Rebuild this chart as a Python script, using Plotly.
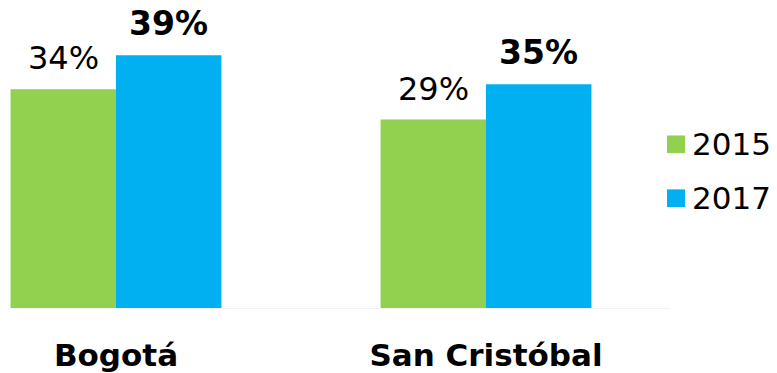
import plotly.graph_objects as go

# data (bar heights; labels show them rounded)
categories = ["Bogotá", "San Cristóbal"]
years = ["2015", "2017"]
values_2015 = [34.0, 29.3]
values_2017 = [39.3, 34.8]
colors = ["#92D050", "#00B0F0"]
label_weights = ["normal", "bold"]
label_sizes = [32, 33]

series = [values_2015, values_2017]

# layout constants (pixels); the page body adds an 8px margin
OFF = 8
W, H = 777 - OFF, 373 - OFF
plot_w, plot_h = 670 - OFF, 314 - OFF
px_per_cat = 370
bargap = 0.43
x_lo = -(116 - OFF) / px_per_cat
x_hi = x_lo + plot_w / px_per_cat
y_hi = plot_h / 6.56
bar_w = px_per_cat * (1 - bargap) / 2

fig = go.Figure()
for i, (year, vals) in enumerate(zip(years, series)):
    fig.add_trace(go.Bar(
        x=categories, y=vals, name=year,
        marker=dict(color=colors[i], line=dict(width=0)),
        showlegend=False,
    ))

# value labels above each bar
annotations = []
for i, vals in enumerate(series):
    shift = (i - 0.5) * bar_w
    for cat, v in zip(categories, vals):
        annotations.append(dict(
            x=cat, y=v, xref="x", yref="y", text=f"{v:.0f}%",
            showarrow=False, yanchor="bottom", xanchor="center",
            xshift=shift, yshift=10,
            font=dict(family="DejaVu Sans", size=label_sizes[i], color="#000000",
                      weight=label_weights[i]),
        ))

# legend drawn at the right side
shapes = []
leg_x0, leg_sq = 667 - OFF, 18
leg_centers = [147 - OFF, 202 - OFF]
for i, year in enumerate(years):
    cy = leg_centers[i]
    shapes.append(dict(
        type="rect", xref="paper", yref="paper",
        x0=leg_x0 / plot_w, x1=(leg_x0 + leg_sq) / plot_w,
        y0=(plot_h - cy - leg_sq / 2) / plot_h, y1=(plot_h - cy + leg_sq / 2) / plot_h,
        fillcolor=colors[i], line=dict(width=0),
    ))
    annotations.append(dict(
        x=(leg_x0 + leg_sq + 5) / plot_w, y=(plot_h - cy) / plot_h,
        xref="paper", yref="paper", text=year, showarrow=False,
        xanchor="left", yanchor="middle",
        font=dict(family="DejaVu Sans", size=31, color="#000000"),
    ))

fig.update_layout(
    width=W, height=H,
    margin=dict(l=0, r=W - plot_w, t=0, b=H - plot_h),
    paper_bgcolor="white", plot_bgcolor="white",
    barmode="group", bargap=bargap, bargroupgap=0,
    annotations=annotations, shapes=shapes,
    showlegend=False,
)
fig.update_xaxes(
    range=[x_lo, x_hi], showgrid=False, zeroline=False,
    showline=True, linecolor="#F2F2F2", linewidth=1,
    ticks="", tickfont=dict(family="DejaVu Sans", size=31, color="#000000", weight="bold"),
    ticklabelstandoff=20,
)
fig.update_yaxes(
    range=[0, y_hi], showgrid=False, zeroline=False,
    showticklabels=False, ticks="",
)

fig.write_html("out.html")
